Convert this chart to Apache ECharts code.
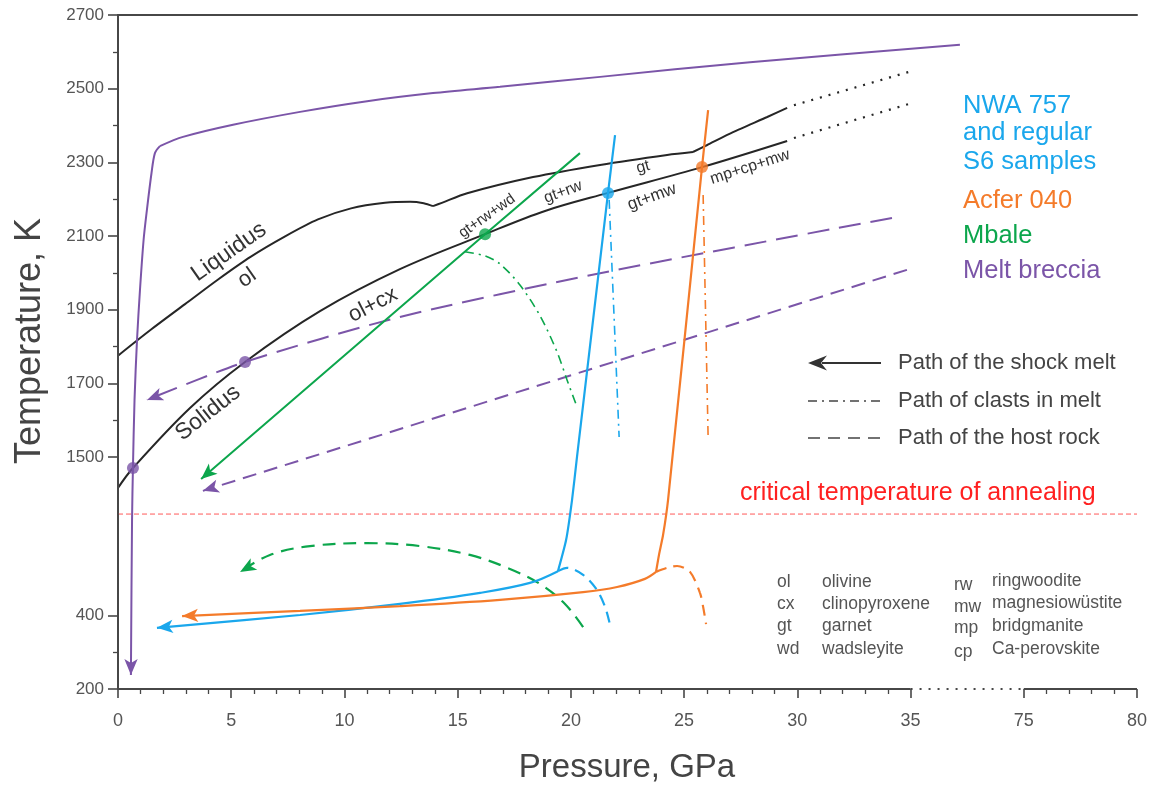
<!DOCTYPE html>
<html><head><meta charset="utf-8">
<script src="https://cdn.jsdelivr.net/npm/echarts@6/dist/echarts.min.js"></script>
<style>html,body{margin:0;padding:0;background:#fff}#c{width:1155px;height:789px}</style>
</head><body><div id="c"></div>
<script>
// ---------- axis ticks (axis units; both axes are broken) ----------
// Pressure axis: 0..35 GPa linear, then 40 -> 75 GPa, 45 -> 80 GPa
const xTickValues = [0, 5, 10, 15, 20, 25, 30, 35, 40, 45];
const xTickLabels = ['0', '5', '10', '15', '20', '25', '30', '35', '75', '80'];
const xMinorTicks = [1,2,3,4,6,7,8,9,11,12,13,14,16,17,18,19,21,22,23,24,26,27,28,29,31,32,33,34,41,42,43,44];
// Temperature axis: 870 -> 200 K, 1070 -> 400 K, then 1500..2700 K linear
const yTickValues = [870, 1070, 1500, 1700, 1900, 2100, 2300, 2500, 2700];
const yTickLabels = ['200', '400', '1500', '1700', '1900', '2100', '2300', '2500', '2700'];
const yMinorTicks = [970, 1600, 1800, 2000, 2200, 2400, 2600];
const xMin = 0, xMax = 45, yMin = 870, yMax = 2700;
const xBreak = [35, 40];
const yBreak = [1070, 1416];
const annealT = 1345;

// ---------- phase boundaries ----------
const liquidusA = [[0,1775],[1.46,1846],[2.96,1915],[4.42,1982],[5.87,2044],[7.38,2099],[8.83,2145],[10.29,2175],[11.79,2190],[12.9,2193],[13.5,2189],[13.91,2181]];
const liquidusB = [[13.91,2181],[14.3,2190],[15.42,2216],[18.33,2260],[21.29,2293],[24.25,2320],[25.39,2328]];
const liquidusC = [[25.39,2328],[26.02,2347],[27.16,2382],[28.67,2423],[29.55,2448]];
const liquidusExt = [[29.85,2455],[35.07,2548]];
const solidus = [[0,1416],[0.66,1470],[3.18,1633],[5.61,1758],[8.92,1896],[12.45,2010],[16.21,2105],[18.86,2168],[21.64,2217],[25.79,2287],[29.55,2358]];
const solidusExt = [[29.85,2366],[35.07,2461]];

// ---------- Melt breccia (purple) ----------
const purpleTop = [[37.18,2619],[27.91,2572],[21.29,2532],[16.87,2505],[13.91,2488],[11.0,2466],[8.04,2437],[5.08,2402],[2.87,2369],[1.85,2344]];
const purpleDrop = [[1.85,2344],[1.63,2325],[1.48,2271],[1.26,2162],[1.13,2089],[0.97,1953],[0.84,1818],[0.73,1655],[0.66,1470],[0.62,1329],[0.57,908]];
const purpleHostA = [[34.18,2149],[21.29,1999],[12.45,1880],[5.61,1758],[1.28,1655]];
const purpleHostB = [[34.84,2008],[3.75,1408]];
const purpleDots = [[0.66,1470],[5.61,1758]];

// ---------- Mbale (green) ----------
const greenMelt = [[20.40,2325],[16.21,2105],[3.67,1440]];
const greenClast = [[15.32,2057],[16.21,2046],[16.87,2024],[17.75,1967],[18.64,1883],[19.39,1785],[19.83,1709],[20.27,1636]];
const greenHost = [[20.54,1038],[19.74,1101],[18.64,1155],[17.31,1196],[15.54,1234],[13.34,1258],[11.0,1266],[8.48,1258],[6.71,1234],[5.39,1188]];
const greenDots = [[16.21,2105]];

// ---------- NWA 757 and regular S6 (blue) ----------
const blueMeltHigh = [[21.95,2374],[21.64,2217],[20.27,1500],[20.05,1383],[19.79,1275],[19.43,1190]];
const blueMeltLow = [[19.43,1190],[18.19,1158],[15.99,1131],[12.45,1101],[8.04,1071],[1.72,1036]];
const blueClast = [[21.69,2198],[22.13,1554]];
const blueHost = [[19.43,1190],[19.83,1199],[20.54,1180],[21.15,1139],[21.51,1093],[21.73,1044]];
const blueDots = [[21.64,2217]];

// ---------- Acfer 040 (orange) ----------
const orangeMeltHigh = [[26.06,2442],[25.79,2287],[24.29,1383],[24.07,1288],[23.89,1234],[23.76,1188]];
const orangeMeltLow = [[23.76,1188],[23.27,1169],[22.04,1147],[20.54,1133],[16.87,1112],[12.45,1095],[8.04,1082],[2.83,1068]];
const orangeClast = [[25.84,2211],[26.06,1554]];
const orangeHost = [[23.76,1188],[24.25,1199],[24.69,1204],[25.26,1188],[25.70,1131],[25.84,1093],[25.97,1046]];
const orangeDots = [[25.79,2287]];

// ---------- texts ----------
const sampleNames = ['NWA 757', 'and regular', 'S6 samples', 'Acfer 040', 'Mbale', 'Melt breccia'];
const pathNames = ['Path of the shock melt', 'Path of clasts in melt', 'Path of the host rock'];
const abbrA = ['ol', 'cx', 'gt', 'wd'];
const mineralA = ['olivine', 'clinopyroxene', 'garnet', 'wadsleyite'];
const abbrB = ['rw', 'mw', 'mp', 'cp'];
const mineralB = ['ringwoodite', 'magnesiowüstite', 'bridgmanite', 'Ca-perovskite'];

const FONT = "'Liberation Sans', Arial, Helvetica, sans-serif";
const C_AXIS = '#474747', C_BLACK = '#262626', C_PURPLE = '#7b55a8', C_BLUE = '#1aa7ec',
      C_ORANGE = '#f47b2a', C_GREEN = '#0ca64c', C_RED = '#ff2020';

function ln(data, color, width, type, smooth, extra) {
  return Object.assign({
    type: 'line', data: data, xAxisIndex: 0, yAxisIndex: 0, symbol: 'none', showSymbol: false,
    silent: true, smooth: smooth || false, animation: false,
    lineStyle: { color: color, width: width, type: type || 'solid' }, z: 3
  }, extra || {});
}
function arrow(data, color) {
  const n = data.length;
  return {
    silent: true, animation: false, label: { show: false }, emphasis: { disabled: true },
    symbol: ['none', 'arrow'], lineStyle: { width: 0, color: color, type: 'solid' },
    data: [[{ coord: data[n - 2], symbol: 'none' },
            { coord: data[n - 1], symbol: 'arrow', symbolSize: [10, 16], symbolOffset: [0, 0] }]]
  };
}
function dots(data, color) {
  return { type: 'scatter', data: data, symbol: 'circle', symbolSize: 12, silent: true,
           itemStyle: { color: color }, z: 6, animation: false };
}

const graphics = [];
function txt(s, x, y, size, color, deg, align) {
  graphics.push({ type: 'text', x: x, y: y, rotation: (deg || 0) * Math.PI / 180, z: 10,
    style: { text: s, font: size + 'px ' + FONT, fill: color, align: align || 'center',
             verticalAlign: 'middle', textAlign: align || 'center', textVerticalAlign: 'middle' } });
}
// axis titles
txt('Pressure, GPa', 627, 768, 33, '#444');
txt('Temperature, K', 30, 341, 36, '#444', 90);
// phase field labels
txt('Liquidus', 229, 252, 23, '#333', 35);
txt('ol', 247, 278, 22, '#333', 35);
txt('Solidus', 208, 413, 23, '#333', 38);
txt('ol+cx', 373, 305, 22, '#333', 27);
txt('gt+rw+wd', 487, 216, 15, '#333', 35);
txt('gt+rw', 563, 192, 16, '#333', 20);
txt('gt', 643, 167, 16, '#333', 15);
txt('gt+mw', 652, 197, 17, '#333', 20);
txt('mp+cp+mw', 750, 167, 16, '#333', 18);
// sample legend
const sampleColors = [C_BLUE, C_BLUE, C_BLUE, C_ORANGE, C_GREEN, C_PURPLE];
const sampleY = [106, 133, 162, 201, 236, 271];
sampleNames.forEach((s, i) => txt(s, 963, sampleY[i], 25.5, sampleColors[i], 0, 'left'));
// path legend
const pathY = [363, 401, 438];
pathNames.forEach((s, i) => txt(s, 898, pathY[i], 22, '#444', 0, 'left'));
graphics.push({ type: 'line', z: 10, shape: { x1: 822, y1: 363, x2: 881, y2: 363 }, style: { stroke: '#333', lineWidth: 2 } });
graphics.push({ type: 'polygon', z: 10, shape: { points: [[808, 363], [827, 355.5], [821, 363], [827, 370.5]] }, style: { fill: '#333' } });
graphics.push({ type: 'line', z: 10, shape: { x1: 808, y1: 401, x2: 881, y2: 401 }, style: { stroke: '#444', lineWidth: 1.6, lineDash: [9, 5, 2, 5] } });
graphics.push({ type: 'line', z: 10, shape: { x1: 808, y1: 438, x2: 881, y2: 438 }, style: { stroke: '#444', lineWidth: 1.6, lineDash: [12, 8] } });
// annealing text
txt('critical temperature of annealing', 740, 493, 25, C_RED, 0, 'left');
// mineral table
const rowA = [582, 604, 626, 649], rowB = [585, 607, 628, 652], rowC = [581, 603, 626, 649];
abbrA.forEach((s, i) => { txt(s, 777, rowA[i], 17.5, '#555', 0, 'left'); txt(mineralA[i], 822, rowA[i], 17.5, '#555', 0, 'left'); });
abbrB.forEach((s, i) => { txt(s, 954, rowB[i], 17.5, '#555', 0, 'left'); txt(mineralB[i], 992, rowC[i], 17.5, '#555', 0, 'left'); });

const axisSeg = (data, type) => ln(data, C_AXIS, 2, type, false, { clip: false, z: 8 });

const option = {
  animation: false,
  backgroundColor: '#fff',
  grid: [
    { left: 118, right: 18, top: 15, bottom: 100 },
    { left: 118, right: 18, top: 15, bottom: 100 }
  ],
  xAxis: [
    { gridIndex: 0, type: 'value', min: xMin, max: xMax, position: 'bottom',
      axisLine: { show: false },
      axisTick: { show: true, customValues: xTickValues, length: 9, lineStyle: { color: C_AXIS, width: 1.6 } },
      axisLabel: { customValues: xTickValues, margin: 23, fontSize: 18, color: '#555', fontFamily: FONT,
        formatter: v => { const i = xTickValues.indexOf(v); return i >= 0 ? xTickLabels[i] : ''; } },
      splitLine: { show: false } },
    { gridIndex: 0, type: 'value', min: xMin, max: xMax, position: 'top',
      axisLine: { show: true, lineStyle: { color: C_AXIS, width: 2 } },
      axisTick: { show: false }, axisLabel: { show: false }, splitLine: { show: false } },
    { gridIndex: 1, type: 'value', min: xMin, max: xMax, position: 'bottom',
      axisLine: { show: false },
      axisTick: { show: true, customValues: xMinorTicks, length: 5, lineStyle: { color: C_AXIS, width: 1.3 } },
      axisLabel: { show: false }, splitLine: { show: false } }
  ],
  yAxis: [
    { gridIndex: 0, type: 'value', min: yMin, max: yMax, position: 'left',
      axisLine: { show: false },
      axisTick: { show: true, customValues: yTickValues, length: 10, lineStyle: { color: C_AXIS, width: 1.6 } },
      axisLabel: { customValues: yTickValues, margin: 14, fontSize: 17, color: '#555', fontFamily: FONT,
        formatter: v => { const i = yTickValues.indexOf(v); return i >= 0 ? yTickLabels[i] : ''; } },
      splitLine: { show: false } },
    { gridIndex: 0, type: 'value', min: yMin, max: yMax, position: 'right',
      axisLine: { show: true, lineStyle: { color: C_AXIS, width: 2 } },
      axisTick: { show: false }, axisLabel: { show: false }, splitLine: { show: false } },
    { gridIndex: 1, type: 'value', min: yMin, max: yMax, position: 'left',
      axisLine: { show: false },
      axisTick: { show: true, customValues: yMinorTicks, length: 5, lineStyle: { color: C_AXIS, width: 1.3 } },
      axisLabel: { show: false }, splitLine: { show: false } }
  ],
  series: [
    // broken axis lines
    axisSeg([[xMin, yMin], [xBreak[0], yMin]], 'solid'),
    axisSeg([[xBreak[0], yMin], [xBreak[1], yMin]], [2, 7]),
    axisSeg([[xBreak[1], yMin], [xMax, yMin]], 'solid'),
    axisSeg([[xMin, yMin], [xMin, yBreak[0]]], 'solid'),
    axisSeg([[xMin, yBreak[0]], [xMin, yBreak[1]]], [2, 8]),
    axisSeg([[xMin, yBreak[1]], [xMin, yMax]], 'solid'),
    // annealing
    ln([[xMin, annealT], [xMax, annealT]], '#ff5a5a', 1, [5, 3], false, { z: 2 }),
    // phase boundaries
    ln(liquidusA, C_BLACK, 2, 'solid', 0.3),
    ln(liquidusB, C_BLACK, 2, 'solid', 0.3),
    ln(liquidusC, C_BLACK, 2, 'solid', 0.2),
    ln(liquidusExt, C_BLACK, 2.2, [2, 7]),
    ln(solidus, C_BLACK, 2, 'solid', 0.35),
    ln(solidusExt, C_BLACK, 2.2, [2, 7]),
    // purple
    ln(purpleTop, C_PURPLE, 2, 'solid', 0.3),
    ln(purpleDrop, C_PURPLE, 2, 'solid', 0.3, { markLine: arrow(purpleDrop, C_PURPLE) }),
    ln(purpleHostA, C_PURPLE, 2, [22, 10], 0.25, { markLine: arrow(purpleHostA, C_PURPLE) }),
    ln(purpleHostB, C_PURPLE, 2, [14, 8], false, { markLine: arrow(purpleHostB, C_PURPLE) }),
    // green
    ln(greenMelt, C_GREEN, 2, 'solid', false, { markLine: arrow(greenMelt, C_GREEN) }),
    ln(greenClast, C_GREEN, 1.6, [9, 5, 2, 5], 0.3),
    ln(greenHost, C_GREEN, 2.2, [13, 8], 0.35, { markLine: arrow(greenHost, C_GREEN) }),
    // blue
    ln(blueMeltHigh, C_BLUE, 2.2, 'solid', 0.2),
    ln(blueMeltLow, C_BLUE, 2.2, 'solid', 0.35, { markLine: arrow(blueMeltLow, C_BLUE) }),
    ln(blueClast, C_BLUE, 1.6, [9, 5, 2, 5]),
    ln(blueHost, C_BLUE, 2.2, [11, 7], 0.3),
    // orange
    ln(orangeMeltHigh, C_ORANGE, 2.2, 'solid', 0.2),
    ln(orangeMeltLow, C_ORANGE, 2.2, 'solid', 0.35, { markLine: arrow(orangeMeltLow, C_ORANGE) }),
    ln(orangeClast, C_ORANGE, 1.6, [9, 5, 2, 5]),
    ln(orangeHost, C_ORANGE, 2.2, [11, 7], 0.3),
    // dots
    dots(purpleDots, C_PURPLE),
    dots(greenDots, C_GREEN),
    dots(blueDots, C_BLUE),
    dots(orangeDots, C_ORANGE)
  ],
  graphic: graphics
};
const chart = echarts.init(document.getElementById('c'), null, { renderer: 'canvas', width: 1155, height: 789 });
chart.setOption(option);
</script>
</body></html>
